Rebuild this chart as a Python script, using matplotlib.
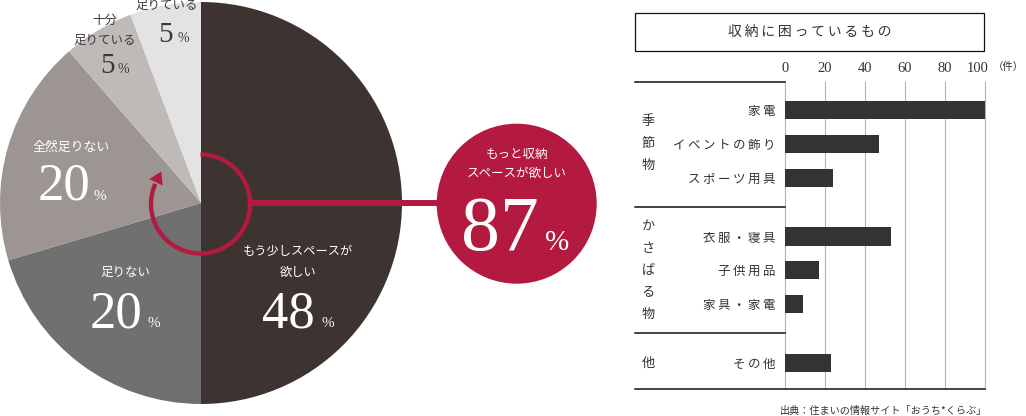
import numpy as np
import matplotlib
matplotlib.use("Agg")
import matplotlib.pyplot as plt
from matplotlib.patches import Circle, Rectangle, Polygon
from matplotlib.transforms import ScaledTranslation, blended_transform_factory

plt.rcParams['font.family'] = ['Noto Sans CJK JP', 'DejaVu Sans']

# pie: answers to "is your storage enough?"
pie_labels = ['もう少しスペースが\n欲しい', '足りない', '全然足りない', '十分\n足りている', '足りている']
pie_pct = [48, 20, 20, 5, 5]
slice_share = [50, 20.4, 18.2, 5.7, 5.7]   # as drawn in the picture
pie_colors = ['#3d3432', '#707070', '#9c9592', '#bfbab7', '#e4e3e4']
want_more = 87

# bars: what is hard to store (count)
items = ['家電', 'イベントの飾り', 'スポーツ用具', '衣服・寝具', '子供用品', '家具・家電', 'その他']
item_group = [0, 0, 0, 1, 1, 1, 2]
counts = [100, 47, 24, 53, 17, 9, 23]
groups = ['季節物', 'かさばる物', '他']
xticks = [0, 20, 40, 60, 80, 100]

crimson = '#b4193f'
ink = '#333333'
serif = ['Liberation Serif', 'DejaVu Serif']


def spaced(s):
    return '\u2009'.join(s)


fig = plt.figure(figsize=(10.26, 4.16), dpi=100)

# ---- pie ----
ax_pie = fig.add_axes([0, 12/416, 402/1026, 402/416])
ax_pie.pie(slice_share, colors=pie_colors, startangle=90, counterclock=False,
           radius=1, wedgeprops=dict(linewidth=0))
ax_pie.set_xlim(-1, 1)
ax_pie.set_ylim(-1, 1)
ax_pie.set_aspect('equal')
ax_pie.axis('off')

# ---- bars ----
ax_bar = fig.add_axes([785/1026, (416-389)/416, 200/1026, 307/416])
pos = [i + g*0.75 for i, g in enumerate(item_group)]
ax_bar.barh(pos, counts, height=0.54, color=ink, zorder=3)
ax_bar.set_xlim(0, 100)
ax_bar.set_ylim(8.273, -0.837)
for t in xticks:
    ax_bar.axvline(t, color='#b5b5b5', lw=0.8, zorder=1, clip_on=False)
for s in ax_bar.spines.values():
    s.set_visible(False)
ax_bar.set_facecolor('none')
ax_bar.xaxis.tick_top()
ax_bar.set_xticks(xticks, labels=[str(t) for t in xticks])
ax_bar.tick_params(axis='x', length=0, pad=5, labelcolor=ink, labelsize=10.5)
for tk in ax_bar.xaxis.get_major_ticks():
    tk.label2.set_fontfamily(serif)
last = ax_bar.xaxis.get_major_ticks()[-1].label2
last.set_transform(last.get_transform() + ScaledTranslation(-7/100, 0, fig.dpi_scale_trans))
ax_bar.set_yticks(pos, labels=[spaced(s) for s in items])
ax_bar.tick_params(axis='y', length=0, pad=7, labelsize=9, labelcolor=ink)

# ---- overlay in pixel coords ----
ax = fig.add_axes([0, 0, 1, 1])
ax.set_xlim(0, 1026)
ax.set_ylim(416, 0)
ax.axis('off')
ax.patch.set_alpha(0)

# ring arrow
cx, cy, r = 200.5, 204, 49.5
phi = np.radians(np.linspace(156, 450, 300))
ax.plot(cx + r*np.cos(phi), cy - r*np.sin(phi), color=crimson, lw=3.1, solid_capstyle='butt')
a = np.radians(154)
P = np.array([cx + r*np.cos(a), cy - r*np.sin(a)])
tang = np.array([np.sin(a), np.cos(a)])
rad = np.array([np.cos(a), -np.sin(a)])
head = [P + 12*tang, P + 7.5*rad, P - 7.5*rad]
ax.add_patch(Polygon(head, closed=True, color=crimson, lw=0))

ax.plot([cx + r, 440], [203, 203], color=crimson, lw=4.3, solid_capstyle='butt')
ax.add_patch(Circle((516.7, 203.7), 80, color=crimson, lw=0))

# pie labels
label_pos = [(298, 262), (125, 272), (71, 147), (104.5, 30), (167, 5)]
label_col = ['white', 'white', 'white', '#3a3a3a', '#3a3a3a']
label_size = [8.8, 9, 9.3, 9, 9]
for txt, (x, y), c, fs in zip(pie_labels, label_pos, label_col, label_size):
    lines = txt.split('\n')
    for k, line in enumerate(lines):
        ax.text(x, y + (k - (len(lines)-1)/2)*20, line, ha='center', va='center',
                fontsize=fs, color=c)

# percentages: (right edge of number, baseline, % left, number size, % size)
pct_pos = [(315, 327, 321, 38, 11), (142, 327, 147, 38, 11), (90.5, 200, 93, 38, 11),
           (115, 73, 117, 21, 10), (173, 42, 177, 21, 10)]
for v, (x, y, xp, fs, fsp), c in zip(pie_pct, pct_pos, label_col):
    ax.text(x, y, str(v), ha='right', va='baseline', fontsize=fs, color=c, family=serif)
    ax.text(xp, y, '%', ha='left', va='baseline', fontsize=fsp, color=c, family=serif)

ax.text(517, 154.5, 'もっと収納', ha='center', va='center', fontsize=9, color='white')
ax.text(517, 173, 'スペースが欲しい', ha='center', va='center', fontsize=9, color='white')
ax.text(539, 250, str(want_more), ha='right', va='baseline', fontsize=56, color='white', family=serif)
ax.text(545, 250, '%', ha='left', va='baseline', fontsize=21, color='white', family=serif)

# bar chart frame
ax.add_patch(Rectangle((635, 12.7), 349.3, 38.3, fill=False, ec='#111111', lw=0.9))
ax.text(810, 31.7, spaced('収納に困っているもの'), ha='center', va='center', fontsize=10, color=ink)
ax.text(1008, 67, '（件）', ha='center', va='center', fontsize=7.5, color=ink)

mix = blended_transform_factory(ax.transData, ax_bar.transData)
y_top, y_bot = -0.837, 8.273
seps = [y_top]
for g in range(1, len(groups)):
    prev = max(p for p, gg in zip(pos, item_group) if gg == g-1)
    nxt = min(p for p, gg in zip(pos, item_group) if gg == g)
    seps.append((prev + nxt)/2)
for s in seps:
    ax.plot([635, 785], [s, s], color='#111111', lw=1.1, transform=mix, clip_on=False)
ax.plot([635, 985], [y_bot, y_bot], color='#111111', lw=1.1, transform=mix, clip_on=False)

pitch = 22/33.7
for g, name in enumerate(groups):
    gp = [p for p, gg in zip(pos, item_group) if gg == g]
    mid = (min(gp) + max(gp))/2
    for k, ch in enumerate(name):
        ax.text(648.5, mid + (k - (len(name)-1)/2)*pitch, ch, ha='center', va='center',
                fontsize=9.5, color=ink, transform=mix)

ax.text(987, 411, '出典：住まいの情報サイト「おうち*くらぶ」', ha='right', va='center',
        fontsize=7.3, color=ink)

fig.savefig('out.png', dpi=100)
